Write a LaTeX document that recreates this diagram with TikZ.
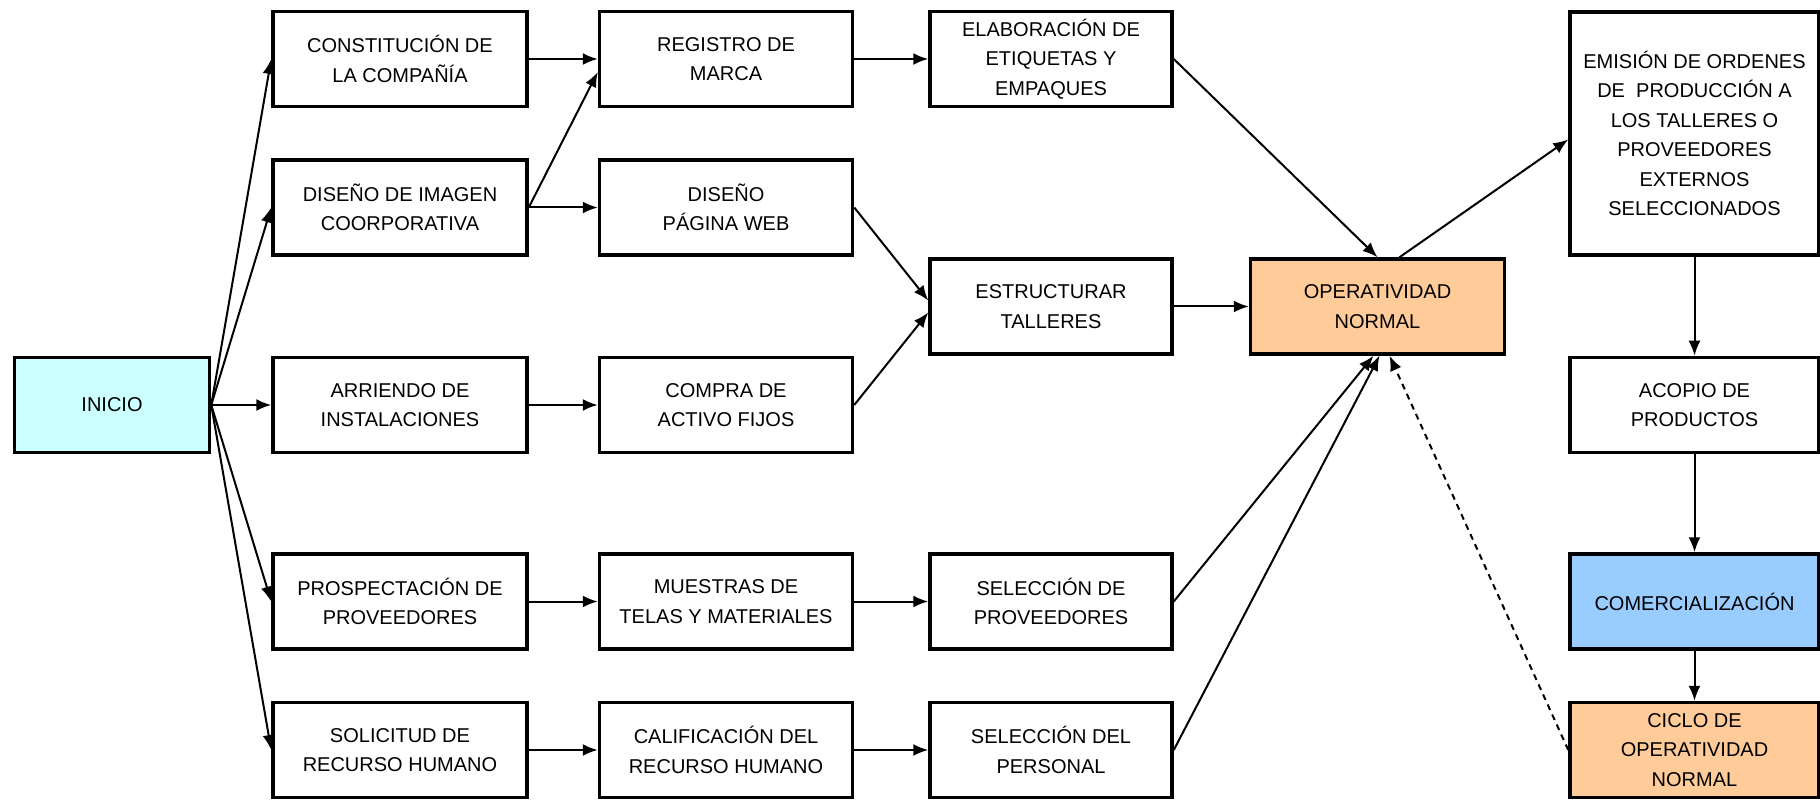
\documentclass[tikz,border=0pt]{standalone}
\usepackage{fontspec}
\setmainfont{Liberation Sans}
\usetikzlibrary{arrows.meta, positioning}

\definecolor{celeste}{HTML}{CCFFFF}
\definecolor{durazno}{HTML}{FFCC99}
\definecolor{azul}{HTML}{99CCFF}

\tikzset{
  caja/.style={draw, line width=3.5pt, align=center, minimum height=95pt, inner sep=2pt,
    font=\fontsize{20pt}{29.5pt}\selectfont},
  flecha/.style={line width=2pt, -{Latex[length=15pt, width=12pt]}},
}

\begin{document}
\begin{tikzpicture}[x=1pt, y=1pt, node distance=50pt]

\useasboundingbox (-112,405) rectangle (1708,-395);

\node [caja, fill=celeste, minimum width=195pt            ] (0) {INICIO};

\node [caja, minimum width=254pt, right=60pt of 0         ] (3) {ARRIENDO DE\\INSTALACIONES};
\node [caja, minimum width=254pt, above=99pt of 3         ] (2) {DISEÑO DE IMAGEN\\COORPORATIVA};
\node [caja, minimum width=254pt, above=of 2              ] (1) {CONSTITUCIÓN DE\\LA COMPAÑÍA};
\node [caja, minimum width=254pt, below=98pt of 3         ] (4) {PROSPECTACIÓN DE\\PROVEEDORES};
\node [caja, minimum width=254pt, below=of 4              ] (5) {SOLICITUD DE\\RECURSO HUMANO};

\node [caja, minimum width=253pt, right=69pt of 1         ] (6) {REGISTRO DE\\MARCA};
\node [caja, minimum width=253pt, right=69pt of 2         ] (7) {DISEÑO\\PÁGINA WEB};
\node [caja, minimum width=253pt, right=69pt of 3         ] (8) {COMPRA DE\\ACTIVO FIJOS};
\node [caja, minimum width=253pt, right=69pt of 4         ] (9) {MUESTRAS DE\\TELAS Y MATERIALES};
\node [caja, minimum width=253pt, right=69pt of 5         ] (10) {CALIFICACIÓN DEL\\RECURSO HUMANO};

\node [caja, minimum width=242pt, right=74pt of 6         ] (11) {ELABORACIÓN DE\\ETIQUETAS Y\\EMPAQUES};
\node [caja, minimum width=242pt, below=149pt of 11       ] (12) {ESTRUCTURAR\\TALLERES};
\node [caja, minimum width=242pt, right=74pt of 9         ] (13) {SELECCIÓN DE\\PROVEEDORES};
\node [caja, minimum width=242pt, right=74pt of 10        ] (14) {SELECCIÓN DEL\\PERSONAL};

\node [caja, fill=durazno, minimum width=254pt, right=75pt of 12] (15) {OPERATIVIDAD\\NORMAL};

\node [caja, minimum width=249pt, below right=0pt and 62pt of 15] (17) {ACOPIO DE\\PRODUCTOS};
\node [caja, minimum width=249pt, minimum height=243pt, above=99pt of 17] (16) {EMISIÓN DE ORDENES\\DE\ \ PRODUCCIÓN A\\LOS TALLERES O\\PROVEEDORES\\EXTERNOS\\SELECCIONADOS};
\node [caja, fill=azul, minimum width=249pt, below=98pt of 17] (18) {COMERCIALIZACIÓN};
\node [caja, fill=durazno, minimum width=249pt, below=of 18] (19) {CICLO DE\\OPERATIVIDAD\\NORMAL};

% inicio
\path [flecha] (0.east) edge (1.west) edge (2.west) edge (3.west) edge (4.west) edge (5.west);

% segunda columna
\path [flecha] (1) edge (6);
\path [flecha] (2.east) edge ([yshift=-13pt]6.west) edge (7.west);
\path [flecha] (3) edge (8);
\path [flecha] (4) edge (9);
\path [flecha] (5) edge (10);

% tercera columna
\path [flecha] (6) edge (11);
\path [flecha] (7.east) edge ([yshift=6pt]12.west);
\path [flecha] (8.east) edge ([yshift=-6pt]12.west);
\path [flecha] (9) edge (13);
\path [flecha] (10) edge (14);

% operatividad
\path [flecha] (11.east) edge (15.north);
\path [flecha] (12) edge (15);
\path [flecha] (13.east) edge ([xshift=-4pt]15.south);
\path [flecha] (14.east) edge ([xshift=2pt]15.south);
\path [flecha] ([xshift=22pt]15.north) edge ([yshift=-6pt]16.west);

% ciclo
\path [flecha] (16) edge (17);
\path [flecha] (17) edge (18);
\path [flecha] (18) edge (19);
\path [flecha, dash pattern=on 6pt off 5pt] (19.west) edge ([xshift=12pt]15.south);

\end{tikzpicture}
\end{document}
